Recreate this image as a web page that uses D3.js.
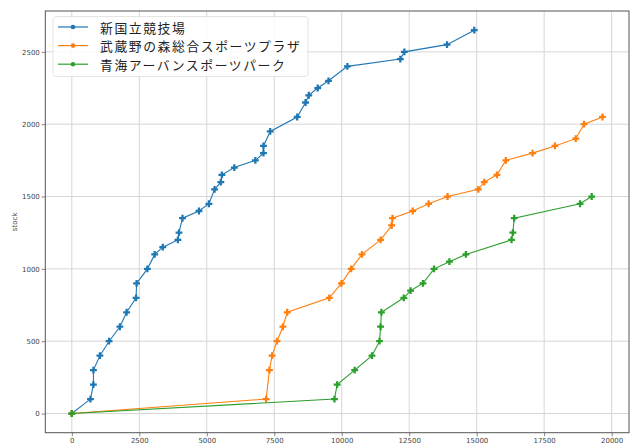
<!DOCTYPE html>
<html><head><meta charset="utf-8">
<script src="https://cdn.jsdelivr.net/npm/d3@7"></script>
<style>body{margin:0;background:#fff;}svg{display:block;}</style>
</head><body>
<script>
const seriesNames = ["新国立競技場", "武蔵野の森総合スポーツプラザ", "青海アーバンスポーツパーク"];
const blueX = [0, 690, 800, 800, 1040, 1380, 1780, 2030, 2380, 2400, 2800, 3070, 3370, 3930, 3970, 4100, 4710, 5080, 5290, 5520, 5560, 6020, 6800, 7100, 7100, 7350, 8350, 8660, 8780, 9110, 9510, 10210, 12170, 12320, 13900, 14910];
const blueY = [0, 100, 200, 300, 400, 500, 600, 700, 800, 900, 1000, 1100, 1150, 1200, 1250, 1350, 1400, 1450, 1550, 1600, 1650, 1700, 1750, 1800, 1850, 1950, 2050, 2150, 2200, 2250, 2300, 2400, 2450, 2500, 2550, 2650];
const orangeX = [0, 7200, 7320, 7420, 7600, 7820, 7980, 9540, 9990, 10350, 10750, 11440, 11850, 11880, 12630, 13220, 13920, 15060, 15280, 15750, 16080, 17070, 17900, 18670, 18980, 19660];
const orangeY = [0, 100, 300, 400, 500, 600, 700, 800, 900, 1000, 1100, 1200, 1300, 1350, 1400, 1450, 1500, 1550, 1600, 1650, 1750, 1800, 1850, 1900, 2000, 2050];
const greenX = [0, 9730, 9830, 10480, 11120, 11400, 11440, 11470, 12300, 12550, 13010, 13420, 13990, 14600, 16290, 16340, 16390, 18830, 19260];
const greenY = [0, 100, 200, 300, 400, 500, 600, 700, 800, 850, 900, 1000, 1050, 1100, 1200, 1250, 1350, 1450, 1500];
const xTicks = [0, 2500, 5000, 7500, 10000, 12500, 15000, 17500, 20000];
const yTicks = [0, 500, 1000, 1500, 2000, 2500];
const colors = ["#1f77b4", "#ff7f0e", "#2ca02c"];
const yLabel = "stock";

const W = 637, H = 444;
const m = {left: 45.3, right: 629, top: 11, bottom: 432.7};
const series = [
  {name: seriesNames[0], xs: blueX, ys: blueY, color: colors[0]},
  {name: seriesNames[1], xs: orangeX, ys: orangeY, color: colors[1]},
  {name: seriesNames[2], xs: greenX, ys: greenY, color: colors[2]}
];
const allX = blueX.concat(orangeX, greenX), allY = blueY.concat(orangeY, greenY);
const xmin = d3.min(allX), xmax = d3.max(allX), ymin = d3.min(allY), ymax = d3.max(allY);
const xm = (xmax - xmin) * 0.05, ym = (ymax - ymin) * 0.05;
const x = d3.scaleLinear().domain([xmin - xm, xmax + xm]).range([m.left, m.right]);
const y = d3.scaleLinear().domain([ymin - ym, ymax + ym]).range([m.bottom, m.top]);

const svg = d3.select("body").append("svg").attr("width", W).attr("height", H);

// grid
const grid = svg.append("g").attr("stroke", "#d6d6d6").attr("stroke-width", 1);
xTicks.forEach(t => grid.append("line").attr("x1", x(t)).attr("x2", x(t)).attr("y1", m.top).attr("y2", m.bottom));
yTicks.forEach(t => grid.append("line").attr("y1", y(t)).attr("y2", y(t)).attr("x1", m.left).attr("x2", m.right));

// axes
const fontTick = "DejaVu Sans, sans-serif";
const xAxis = svg.append("g").attr("transform", `translate(0,${m.bottom})`)
  .call(d3.axisBottom(x).tickValues(xTicks).tickFormat(d3.format("d")).tickSize(3.5).tickPadding(2));
const yAxis = svg.append("g").attr("transform", `translate(${m.left},0)`)
  .call(d3.axisLeft(y).tickValues(yTicks).tickFormat(d3.format("d")).tickSize(3.5).tickPadding(2));
[xAxis, yAxis].forEach(a => {
  a.select(".domain").remove();
  a.selectAll(".tick line").attr("stroke", "#666").attr("stroke-width", 0.8);
  a.selectAll(".tick text").attr("fill", "#444").style("font-family", fontTick).style("font-size", "7px");
});

// frame
svg.append("rect").attr("x", m.left).attr("y", m.top).attr("width", m.right - m.left).attr("height", m.bottom - m.top)
  .attr("fill", "none").attr("stroke", "#555").attr("stroke-width", 1);

// y label
svg.append("text").attr("transform", `translate(15,${(m.top + m.bottom) / 2 + 0}) rotate(-90)`)
  .attr("text-anchor", "middle").attr("dominant-baseline", "middle")
  .style("font-family", fontTick).style("font-size", "7px").attr("fill", "#444").text(yLabel);

// lines
const line = d3.line().x(d => x(d[0])).y(d => y(d[1]));
const sym = d3.symbol().type(d3.symbolCross).size(26);
series.forEach(s => {
  const pts = s.xs.map((v, i) => [v, s.ys[i]]);
  svg.append("path").datum(pts).attr("d", line).attr("fill", "none").attr("stroke", s.color).attr("stroke-width", 1.1);
  svg.append("g").selectAll("path").data(pts).join("path")
    .attr("transform", d => `translate(${x(d[0])},${y(d[1])})`)
    .attr("d", sym).attr("fill", s.color);
});

// legend
const lg = svg.append("g");
lg.append("rect").attr("x", 53).attr("y", 16.5).attr("width", 255).attr("height", 60).attr("rx", 3)
  .attr("fill", "#fff").attr("fill-opacity", 0.85).attr("stroke", "#ddd").attr("stroke-width", 0.8);
series.forEach((s, i) => {
  const cy = 27 + i * 18.6;
  lg.append("line").attr("x1", 58).attr("x2", 88).attr("y1", cy).attr("y2", cy).attr("stroke", s.color).attr("stroke-width", 1.2);
  lg.append("circle").attr("cx", 73).attr("cy", cy).attr("r", 2.3).attr("fill", s.color);
  lg.append("text").attr("x", 100).attr("y", cy).attr("dominant-baseline", "central")
    .style("font-family", "'Noto Sans CJK JP', sans-serif").style("font-size", "12.8px")
    .style("letter-spacing", "1.6px").attr("fill", "#222").text(s.name);
});
</script>
</body></html>
